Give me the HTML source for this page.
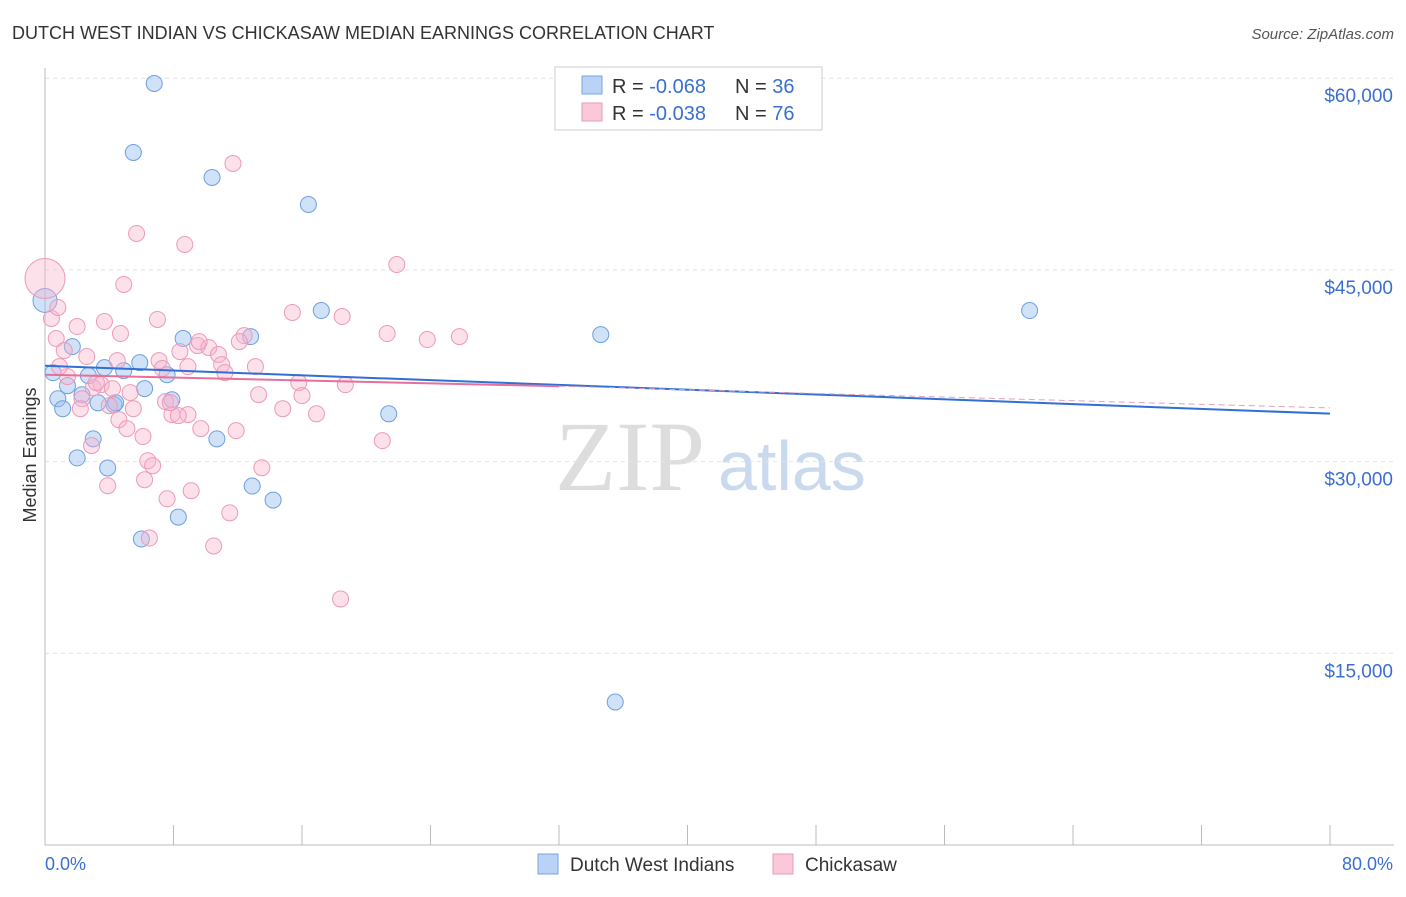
<!DOCTYPE html>
<html><head><meta charset="utf-8"><style>
body{margin:0;background:#fff;font-family:"Liberation Sans",sans-serif}
</style></head><body>
<svg id="c" width="1406" height="892" xmlns="http://www.w3.org/2000/svg">
<text x="12" y="39" font-size="18" fill="#333">DUTCH WEST INDIAN VS CHICKASAW MEDIAN EARNINGS CORRELATION CHART</text>
<text x="1394" y="39" font-size="15" fill="#555" text-anchor="end" font-style="italic">Source: ZipAtlas.com</text>
<text x="555" y="490" font-size="100" fill="#ddd" font-family="Liberation Serif">ZIP</text>
<text x="718" y="490" font-size="70" fill="#c9d9ee">atlas</text>
<text x="36" y="455" font-size="18" fill="#333" transform="rotate(-90 36 455)" text-anchor="middle">Median Earnings</text>
<g id="grid"></g><g id="pts"></g><g id="trend"></g>
<g>
<rect x="555" y="67" width="267" height="63" fill="#fff" stroke="#ccc"/>
<rect x="582" y="76" width="20" height="18" fill="#b8d3f5" stroke="#7aa5e0"/>
<rect x="582" y="103" width="20" height="18" fill="#fbc8d8" stroke="#eb9ab6"/>
<text x="612" y="93" font-size="20" fill="#333">R = <tspan fill="#3a6fd0">-0.068</tspan></text>
<text x="735" y="93" font-size="20" fill="#333">N = <tspan fill="#3a6fd0">36</tspan></text>
<text x="612" y="120" font-size="20" fill="#333">R = <tspan fill="#3a6fd0">-0.038</tspan></text>
<text x="735" y="120" font-size="20" fill="#333">N = <tspan fill="#3a6fd0">76</tspan></text>
</g>
<g>
<rect x="538" y="854" width="20" height="20" fill="#b8d3f5" stroke="#7aa5e0"/>
<text x="570" y="871" font-size="19" fill="#333">Dutch West Indians</text>
<rect x="773" y="854" width="20" height="20" fill="#fbc8d8" stroke="#eb9ab6"/>
<text x="805" y="871" font-size="19" fill="#333">Chickasaw</text>
</g>
<text x="45" y="870" font-size="18" fill="#3a6fd0">0.0%</text>
<text x="1393" y="870" font-size="18" fill="#3a6fd0" text-anchor="end">80.0%</text>
</svg>
<script>
const yTicks=[15000,30000,45000,60000];
const yTickLabels=["$15,000","$30,000","$45,000","$60,000"];
const xTicks=[0,8,16,24,32,40,48,56,64,72,80];
const blueX=[6.8,5.5,10.4,16.4,0,17.2,61.3,34.6,8.6,12.8,1.7,5.9,3.7,4.9,0.5,7.6,2.7,6.2,1.4,2.3,0.8,3.3,7.9,4.3,1.1,21.4,3.0,10.7,2.0,3.9,12.9,14.2,8.3,6.0,35.5,4.4];
const blueY=[59590,54190,52230,50120,42610,41820,41820,39940,39630,39780,39000,37740,37350,37120,36960,36800,36730,35710,35940,35230,34920,34600,34840,34450,34140,33740,31780,31780,30290,29500,28090,26990,25660,23940,11190,34600];
const pinkX=[11.7,5.7,8.7,21.9,4.9,0,0.4,15.4,18.5,7.0,3.7,2.0,4.7,21.3,25.8,23.8,0.7,12.4,12.1,9.5,10.2,8.4,1.2,10.8,2.6,7.1,11.0,13.1,8.9,7.3,11.2,1.4,15.8,3.5,18.7,3.0,4.2,13.3,5.3,16.0,2.3,7.5,2.2,14.8,8.9,16.9,7.9,4.6,8.3,9.7,5.1,11.9,6.1,2.9,21.0,6.4,6.7,13.5,6.2,3.9,9.1,7.6,11.5,6.5,10.5,18.4,0.8,4.5,3.2,5.5,4.0,7.8,0.9,9.6];
const pinkY=[53330,47850,46990,45420,43860,44330,41200,41670,41350,41120,40960,40570,40020,40020,39780,39550,39630,39860,39390,39080,38920,38610,38690,38380,38220,37900,37590,37430,37430,37280,36960,36650,36180,36020,36020,35780,35710,35240,35400,35160,34920,34690,34140,34140,33680,33740,33680,33280,33600,32580,32580,32420,31960,31250,31640,30070,29680,29520,28580,28110,27720,27090,25990,24020,23400,19250,42060,37900,36180,34140,34380,34610,37430,39390];
const blueTrend=[37500,33750];
const pinkTrend=[36800,35900,34200];
const X=v=>45+v/80*1285, Y=v=>845-v/15000*191.7;
const NS="http://www.w3.org/2000/svg";
function el(t,a,p){const e=document.createElementNS(NS,t);for(const k in a)e.setAttribute(k,a[k]);document.getElementById(p).appendChild(e);return e;}
yTicks.forEach((v,i)=>{
 const l=el('line',{x1:45,x2:1394,y1:Y(v),y2:Y(v),stroke:'#e2e2e2','stroke-dasharray':'4 4'},'grid');
 
 
 const t=el('text',{x:1393,y:Y(v)+24,'font-size':19,fill:'#3a6fd0','text-anchor':'end'},'grid');
 t.textContent=yTickLabels[i];
 
 
});
const ax=el('line',{x1:45,x2:1394,y1:845,y2:845,stroke:'#bbb'},'grid');


const ay=el('line',{x1:45,x2:45,y1:68,y2:845,stroke:'#bbb'},'grid');


xTicks.forEach(v=>{const t=el('line',{x1:X(v),x2:X(v),y1:825,y2:845,stroke:'#bbb'},'grid');
 
 });
blueX.forEach((v,i)=>{const c=el('circle',{cx:X(v),cy:Y(blueY[i]),r:i==4?12:8,fill:'rgba(150,190,240,0.45)',stroke:'#6f9fe0','stroke-width':1},'pts');
 
 });
pinkX.forEach((v,i)=>{const c=el('circle',{cx:X(v),cy:Y(pinkY[i]),r:i==5?20:8,fill:'rgba(248,180,205,0.4)',stroke:'#ec9ab7','stroke-width':1},'pts');
 
 });
const b=el('line',{x1:X(0),y1:Y(blueTrend[0]),x2:X(80),y2:Y(blueTrend[1]),stroke:'#2f6fd6','stroke-width':2},'trend');


const p1=el('line',{x1:X(0),y1:Y(pinkTrend[0]),x2:X(32),y2:Y(pinkTrend[1]),stroke:'#e5709a','stroke-width':2},'trend');


const p2=el('line',{x1:X(32),y1:Y(pinkTrend[1]),x2:X(80),y2:Y(pinkTrend[2]),stroke:'#e5a0b8','stroke-width':1,'stroke-dasharray':'6 4'},'trend');


</script>
</body></html>
